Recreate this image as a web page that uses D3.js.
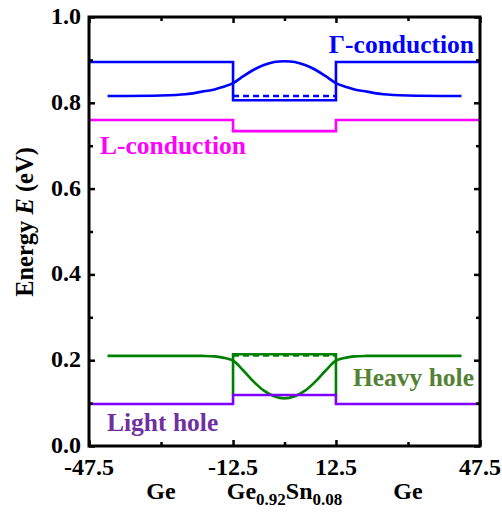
<!DOCTYPE html>
<html>
<head>
<meta charset="utf-8">
<script src="https://cdnjs.cloudflare.com/ajax/libs/d3/7.8.5/d3.min.js"></script>
<style>
  body { margin: 0; background: #fff; }
  text { font-family: "Liberation Serif", "Times New Roman", serif; font-weight: bold; }
</style>
</head>
<body>
<svg id="chart" width="502" height="513"></svg>
<script>
// Band edge steps: [position, energy] pairs (Ge | GeSn well | Ge)
var gammaStep = [[-47.5, 0.895], [-12.5, 0.895], [-12.5, 0.806], [12.5, 0.806], [12.5, 0.895], [47.5, 0.895]];
var lStep = [[-47.5, 0.760], [-12.5, 0.760], [-12.5, 0.734], [12.5, 0.734], [12.5, 0.760], [47.5, 0.760]];
var heavyStep = [[-12.5, 0.119], [-12.5, 0.214], [12.5, 0.214], [12.5, 0.119]];
var lightStep = [[-47.5, 0.098], [-12.5, 0.098], [-12.5, 0.119], [12.5, 0.119], [12.5, 0.098], [47.5, 0.098]];

// Confined levels (dashed) inside the well
var gammaLevel = [[-12.5, 0.816], [12.5, 0.816]];
var heavyLevel = [[-12.5, 0.211], [12.5, 0.211]];

// Wavefunction-like curves
var curveX = [-43, -30, -24, -20, -17, -15, -12.5, -10, -7.5, -5, -2.5, 0, 2.5, 5, 7.5, 10, 12.5, 15, 17, 20, 24, 30, 43];
var gammaCurve = [0.816, 0.817, 0.820, 0.826, 0.831, 0.837, 0.846, 0.862, 0.877, 0.888, 0.895, 0.897, 0.895, 0.888, 0.877, 0.862, 0.846, 0.837, 0.831, 0.826, 0.820, 0.817, 0.816];
var heavyCurve = [0.210, 0.210, 0.210, 0.210, 0.209, 0.206, 0.199, 0.176, 0.150, 0.129, 0.116, 0.111, 0.116, 0.129, 0.150, 0.176, 0.199, 0.206, 0.209, 0.210, 0.210, 0.210, 0.210];

var xMajor = [-47.5, -12.5, 12.5, 47.5];
var xMinor = [-30, 0, 30];
var yMajor = [0.0, 0.2, 0.4, 0.6, 0.8, 1.0];
var yMinor = [0.1, 0.3, 0.5, 0.7, 0.9];

var margin = { left: 89, right: 22, top: 17, bottom: 67 };
var width = 502, height = 513;

var svg = d3.select("#chart");
var x = d3.scaleLinear().domain([-47.5, 47.5]).range([margin.left, width - margin.right]);
var y = d3.scaleLinear().domain([0, 1]).range([height - margin.bottom, margin.top]);

var line = d3.line().x(function(d) { return x(d[0]); }).y(function(d) { return y(d[1]); });
var curve = d3.line().curve(d3.curveCatmullRom.alpha(0.5)).x(function(d) { return x(d[0]); }).y(function(d) { return y(d[1]); });

function draw(data, color, gen, dash) {
  svg.append("path")
    .datum(data)
    .attr("d", gen)
    .attr("fill", "none")
    .attr("stroke", color)
    .attr("stroke-width", 2.6)
    .attr("stroke-dasharray", dash || null);
}

// heavy hole pieces
draw(heavyStep, "#008000", line);
draw(heavyLevel, "#008000", line, "6,4");
draw(curveX.map(function(v, i) { return [v, heavyCurve[i]]; }), "#008000", curve);
draw(lightStep, "#8000ff", line);

// conduction pieces
draw(lStep, "#ff00ff", line);
draw(gammaStep, "#0000ff", line);
draw(gammaLevel, "#0000ff", line, "6,4");
draw(curveX.map(function(v, i) { return [v, gammaCurve[i]]; }), "#0000ff", curve);

// axes, ticks inward
function axis(gen, ticks, size, transform) {
  svg.append("g")
    .attr("transform", transform)
    .call(gen.tickValues(ticks).tickSize(size).tickFormat(""))
    .call(function(g) {
      g.select(".domain").remove();
      g.selectAll("line").attr("stroke", "#000").attr("stroke-width", 2.5);
    });
}
var bottomY = height - margin.bottom, rightX = width - margin.right;
axis(d3.axisTop(x), xMajor, 6, "translate(0," + bottomY + ")");
axis(d3.axisTop(x), xMinor, 4, "translate(0," + bottomY + ")");
axis(d3.axisBottom(x), xMajor, 6, "translate(0," + margin.top + ")");
axis(d3.axisBottom(x), xMinor, 4, "translate(0," + margin.top + ")");
axis(d3.axisRight(y), yMajor, 6, "translate(" + margin.left + ",0)");
axis(d3.axisRight(y), yMinor, 4, "translate(" + margin.left + ",0)");
axis(d3.axisLeft(y), yMajor, 6, "translate(" + rightX + ",0)");
axis(d3.axisLeft(y), yMinor, 4, "translate(" + rightX + ",0)");

svg.append("rect")
  .attr("x", margin.left).attr("y", margin.top)
  .attr("width", rightX - margin.left).attr("height", bottomY - margin.top)
  .attr("fill", "none").attr("stroke", "#000").attr("stroke-width", 3);

// tick labels
svg.selectAll(".ylab").data(yMajor).enter().append("text")
  .attr("x", margin.left - 8).attr("y", function(d) { return y(d) + 7; })
  .attr("text-anchor", "end").attr("font-size", 24)
  .text(function(d) { return d.toFixed(1); });
svg.selectAll(".xlab").data(xMajor).enter().append("text")
  .attr("x", function(d) { return x(d); }).attr("y", 475)
  .attr("text-anchor", "middle").attr("font-size", 24)
  .text(function(d) { return d; });

// region labels
svg.append("text").attr("x", x(-30)).attr("y", 499).attr("text-anchor", "middle").attr("font-size", 24).text("Ge");
svg.append("text").attr("x", x(30)).attr("y", 499).attr("text-anchor", "middle").attr("font-size", 24).text("Ge");
var gs = svg.append("text").attr("x", x(0)).attr("y", 499).attr("text-anchor", "middle").attr("font-size", 24);
gs.append("tspan").text("Ge");
gs.append("tspan").attr("font-size", 17).attr("dy", 6).text("0.92");
gs.append("tspan").attr("dy", -6).text("Sn");
gs.append("tspan").attr("font-size", 17).attr("dy", 6).text("0.08");

// y axis title
var yt = svg.append("text")
  .attr("transform", "translate(33,222) rotate(-90)")
  .attr("text-anchor", "middle").attr("font-size", 24.5);
yt.append("tspan").text("Energy ");
yt.append("tspan").attr("font-style", "italic").text("E");
yt.append("tspan").text(" (eV)");

// band labels
svg.append("text").attr("x", 474).attr("y", 53).attr("text-anchor", "end").attr("font-size", 25.5).attr("fill", "#0000ff").text("Γ-conduction");
svg.append("text").attr("x", 100).attr("y", 154).attr("font-size", 25.5).attr("fill", "#ff00ff").text("L-conduction");
svg.append("text").attr("x", 474).attr("y", 386).attr("text-anchor", "end").attr("font-size", 25.5).attr("fill", "#548235").text("Heavy hole");
svg.append("text").attr("x", 107).attr("y", 431).attr("font-size", 25.5).attr("fill", "#7030a0").text("Light hole");
</script>
</body>
</html>
